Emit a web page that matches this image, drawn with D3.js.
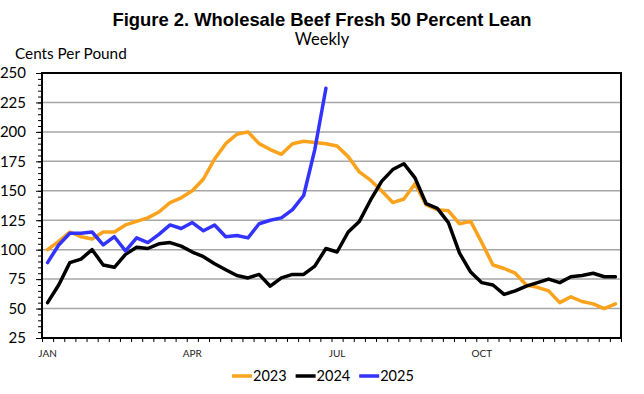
<!DOCTYPE html>
<html>
<head>
<meta charset="utf-8">
<script src="https://cdn.jsdelivr.net/npm/d3@7"></script>
<style>
  body { margin: 0; background: #fff; }
  svg { display: block; }
</style>
</head>
<body>
<script>
// weekly series, cents per pound
const weekCount = 52;
const monthLabels = ['JAN', 'APR', 'JUL', 'OCT'];
const monthWeeks = [0, 13, 26, 39];
const yTicks = [25, 50, 75, 100, 125, 150, 175, 200, 225, 250];
const years = ['2023', '2024', '2025'];
const colors = ['#FAA21B', '#000000', '#3333FF'];

const y2023 = [100, 107, 115, 111, 109, 115, 115, 121, 124, 127, 132, 140, 144, 150, 160, 177,
  190, 198, 200, 190, 185, 181, 190, 192, 191, 190, 188, 179, 166, 159, 150, 140, 143, 156,
  138, 134, 133, 122, 124, 106, 87, 84, 80, 70, 68, 65, 55, 60, 56, 54, 50, 54];
const y2024 = [55, 70, 89, 92, 100, 87, 85, 96, 102, 101, 105, 106, 103, 98, 94, 88,
  83, 78, 76, 79, 69, 76, 79, 79, 86, 101, 98, 115, 124, 142, 158, 168, 173, 161,
  139, 135, 123, 97, 81, 72, 70, 62, 65, 69, 72, 75, 72, 77, 78, 80, 77, 77];
const y2025 = [89, 104, 114, 114, 115, 104, 111, 99, 110, 106, 113, 121, 118, 123, 116, 121,
  111, 112, 110, 122, 125, 127, 134, 146, 185, 237];

const series = [y2023, y2024, y2025];

const w = 644, h = 394;
const plotLeft = 42, plotRight = 621, plotTop = 73, plotBottom = 338;

const svg = d3.select('body').append('svg')
  .attr('width', w)
  .attr('height', h);

const x = d3.scaleLinear().domain([0, weekCount]).range([plotLeft, plotRight]);
const y = d3.scaleLinear().domain([25, 250]).range([plotBottom, plotTop]);

// title
svg.append('text')
  .attr('x', 322).attr('y', 26)
  .attr('text-anchor', 'middle')
  .style('font-family', '"Liberation Sans", Arial, sans-serif')
  .style('font-weight', 'bold')
  .style('font-size', '18.4px')
  .text('Figure 2. Wholesale Beef Fresh 50 Percent Lean');

svg.append('text')
  .attr('x', 322).attr('y', 45)
  .attr('text-anchor', 'middle')
  .style('font-family', 'Lato, sans-serif')
  .style('font-size', '16.5px')
  .text('Weekly');

svg.append('text')
  .attr('x', 15).attr('y', 59)
  .style('font-family', 'Lato, sans-serif')
  .style('font-size', '15.3px')
  .text('Cents Per Pound');

// gridlines
svg.append('g')
  .selectAll('line')
  .data(yTicks.filter((d) => d > 25 && d < 250))
  .enter()
  .append('line')
  .attr('x1', plotLeft).attr('x2', plotRight)
  .attr('y1', (d) => y(d)).attr('y2', (d) => y(d))
  .attr('stroke', '#a6a6a6')
  .attr('stroke-width', 1.5);

// y axis with minor ticks
const yMinor = d3.axisLeft(y)
  .tickValues(d3.range(25, 251, 5))
  .tickSize(4)
  .tickFormat('');
svg.append('g')
  .attr('transform', `translate(${plotLeft},0)`)
  .call(yMinor)
  .call((g) => g.select('.domain').remove())
  .selectAll('line').attr('stroke', '#000');

const yAxis = d3.axisLeft(y)
  .tickValues(yTicks)
  .tickSize(6)
  .tickPadding(10);
svg.append('g')
  .attr('transform', `translate(${plotLeft},0)`)
  .call(yAxis)
  .call((g) => g.select('.domain').remove())
  .call((g) => g.selectAll('line').attr('stroke', '#000'))
  .selectAll('text')
  .style('font-family', 'Lato, sans-serif')
  .style('font-size', '15px')
  .attr('fill', '#000');

// x axis: week ticks and month labels
const xAxis = d3.axisBottom(x)
  .tickValues(d3.range(0, weekCount + 1))
  .tickSize(4)
  .tickFormat('');
svg.append('g')
  .attr('transform', `translate(0,${plotBottom})`)
  .call(xAxis)
  .call((g) => g.select('.domain').remove())
  .selectAll('line').attr('stroke', '#000').attr('stroke-width', 1);

svg.append('g')
  .selectAll('text')
  .data(monthLabels)
  .enter()
  .append('text')
  .attr('x', (d, i) => x(monthWeeks[i] + 0.5))
  .attr('y', 357)
  .attr('text-anchor', 'middle')
  .style('font-family', 'Lato, sans-serif')
  .style('font-size', '10px')
  .attr('fill', '#222')
  .text((d) => d);

// plot border
svg.append('rect')
  .attr('x', plotLeft).attr('y', plotTop)
  .attr('width', plotRight - plotLeft).attr('height', plotBottom - plotTop)
  .attr('fill', 'none')
  .attr('stroke', '#000')
  .attr('stroke-width', 2);

// lines
const line = d3.line()
  .x((d, i) => x(i + 0.5))
  .y((d) => y(d));

svg.append('g')
  .selectAll('path')
  .data(series)
  .enter()
  .append('path')
  .attr('d', (d) => line(d))
  .attr('fill', 'none')
  .attr('stroke', (d, i) => colors[i])
  .attr('stroke-width', 3.5)
  .attr('stroke-linejoin', 'round')
  .attr('stroke-linecap', 'round');

// legend
const legend = svg.append('g')
  .selectAll('g')
  .data(years)
  .enter()
  .append('g')
  .attr('transform', (d, i) => `translate(${232 + i * 63.6},376)`);

legend.append('line')
  .attr('x1', 0).attr('x2', 20)
  .attr('stroke', (d, i) => colors[i])
  .attr('stroke-width', 3.5);

legend.append('text')
  .attr('x', 21)
  .attr('dy', '0.35em')
  .style('font-family', 'Lato, sans-serif')
  .style('font-size', '14.5px')
  .text((d) => d);
</script>
</body>
</html>
